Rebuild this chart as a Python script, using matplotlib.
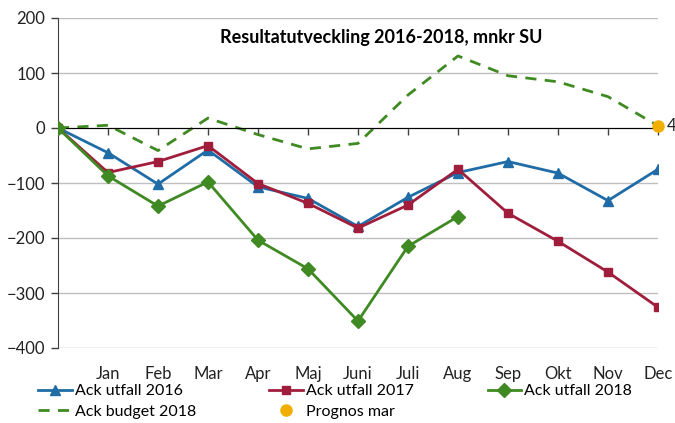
import matplotlib.pyplot as plt
import numpy as np

plt.rcParams["font.family"] = ["Lato", "DejaVu Sans"]

months = ["", "Jan", "Feb", "Mar", "Apr", "Maj", "Juni", "Juli", "Aug", "Sep", "Okt", "Nov", "Dec"]
utfall_2016 = [0, -45, -102, -40, -107, -128, -179, -126, -81, -61, -82, -132, -75]
utfall_2017 = [0, -81, -61, -32, -101, -137, -182, -140, -75, -155, -206, -262, -326]
utfall_2018 = [0, -87, -142, -98, -204, -256, -351, -215, -161]
budget_2018 = [0, 5, -41, 18, -12, -38, -28, 60, 131, 95, 84, 57, 4]
prognos_mar = 4
yticks = [-400, -300, -200, -100, 0, 100, 200]

blue = "#1F6CA6"
red = "#A01E3C"
green = "#3F8A22"
orange = "#F2AE00"

fig = plt.figure(figsize=(6.75, 4.23), dpi=100)
ax = fig.add_axes([58 / 675, 1 - 348 / 423, 600 / 675, 330 / 423])

x = np.arange(len(months))
ax.plot(x, utfall_2016, color=blue, lw=2, marker="^", ms=7, label="Ack utfall 2016", zorder=3)
ax.plot(x, utfall_2017, color=red, lw=2, marker="s", ms=6, label="Ack utfall 2017", zorder=3)
ax.plot(x[:len(utfall_2018)], utfall_2018, color=green, lw=2, marker="D", ms=7, label="Ack utfall 2018", zorder=3)
ax.plot(x, budget_2018, color=green, lw=2, ls=(0, (4, 3)), label="Ack budget 2018", zorder=2)
ax.plot([x[-1]], [prognos_mar], ls="none", marker="o", ms=8, color=orange, label="Prognos mar", zorder=4, clip_on=False)
ax.text(x[-1] + 0.17, prognos_mar, str(prognos_mar), va="center", ha="left", fontsize=12, color="#222222")

ax.set_xlim(0, 12)
ax.set_ylim(-400, 200)
ax.set_yticks(yticks)
ax.yaxis.grid(True, color="#BFBFBF", lw=1)
ax.set_axisbelow(True)
ax.tick_params(axis="y", length=5, width=1, color="#404040", labelsize=12, pad=4, labelcolor="#222222")

# category axis sits at zero, labels stay at the bottom
ax.spines["bottom"].set_position(("data", 0))
ax.spines["bottom"].set_color("black")
ax.spines["bottom"].set_zorder(2.5)
ax.spines["top"].set_visible(False)
ax.spines["right"].set_visible(False)
ax.spines["left"].set_color("#404040")
ax.set_xticks(x[1:])
ax.tick_params(axis="x", length=5, width=1, color="#404040", labelbottom=False)

sec = ax.secondary_xaxis("bottom")
sec.set_xticks(x[1:], months[1:])
sec.tick_params(length=0, pad=13, labelsize=12, labelcolor="#222222")
sec.spines["bottom"].set_visible(False)

ax.set_title("Resultatutveckling 2016-2018, mnkr SU", fontsize=13, fontweight="bold",
             x=0.538, y=0.94, va="top")

handles, labels = ax.get_legend_handles_labels()
order = [0, 3, 1, 4, 2]
fig.legend([handles[i] for i in order], [labels[i] for i in order], ncol=3,
           loc="upper left", bbox_to_anchor=(38 / 675, 1 - 384 / 423), frameon=False,
           fontsize=11.5, handlelength=2.1, handletextpad=0.2, columnspacing=4.6,
           labelspacing=0.4, borderaxespad=0, borderpad=0)

fig.savefig("out.png", dpi=100)
